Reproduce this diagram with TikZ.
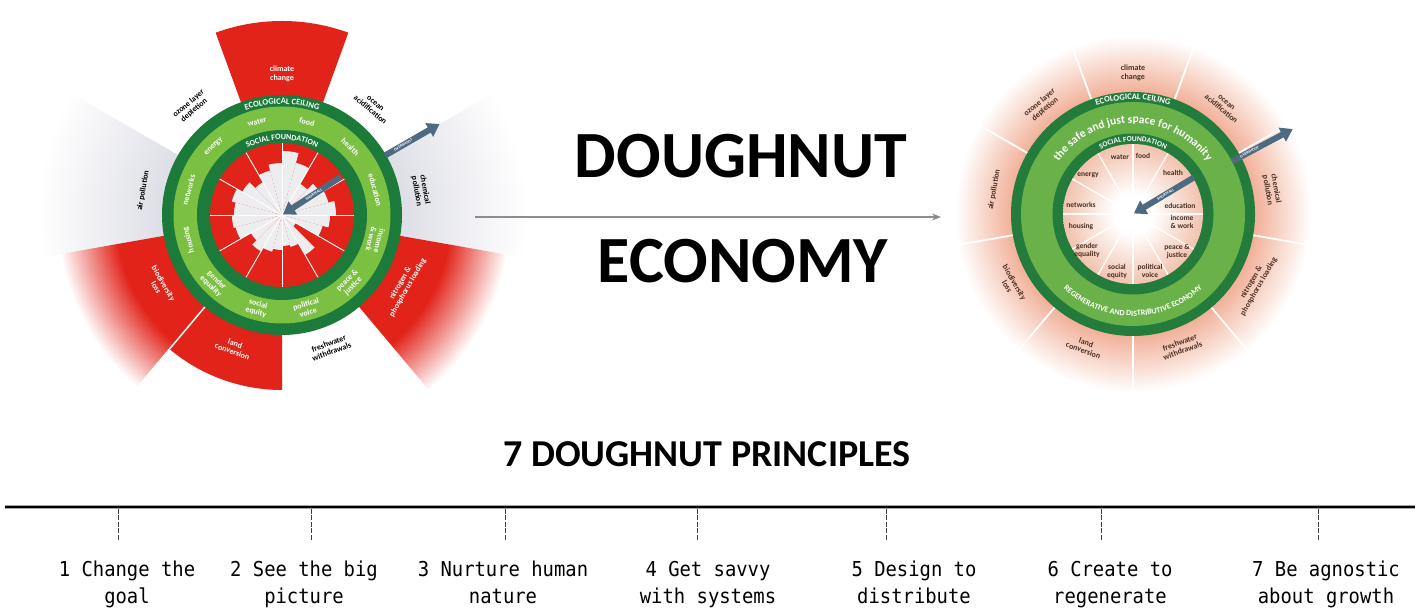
\documentclass[tikz,border=0pt]{standalone}
\usepackage{fontspec}
\setmainfont{Carlito}
\newfontfamily\monofont[FakeStretch=0.92]{DejaVu Sans Mono}
\usetikzlibrary{arrows.meta,decorations.text}

\definecolor{dnred}{HTML}{E2231A}
\definecolor{wedgegrey}{HTML}{DDDEE6}
\definecolor{innergrey}{HTML}{EDEDF0}
\definecolor{ldark}{HTML}{1C7A3A}
\definecolor{llight}{HTML}{7BC043}
\definecolor{rdark}{HTML}{237B3C}
\definecolor{rlight}{HTML}{6BB14A}
\definecolor{slate}{HTML}{4D6A80}
\definecolor{halopink}{HTML}{F1AF97}
\definecolor{corepink}{HTML}{F2C2AE}
\definecolor{labelbrown}{HTML}{4A3024}
\definecolor{arrowgrey}{HTML}{8C8C8C}

% radial fades (the inner 25bp maps onto the shaded circle's radius)
\pgfdeclareradialshading{greyfade}{\pgfpoint{0bp}{0bp}}{color(0bp)=(wedgegrey); color(12bp)=(wedgegrey); color(25bp)=(white); color(50bp)=(white)}
\pgfdeclareradialshading{redfade}{\pgfpoint{0bp}{0bp}}{color(0bp)=(dnred); color(18.5bp)=(dnred); color(25bp)=(white); color(50bp)=(white)}
\pgfdeclareradialshading{halo}{\pgfpoint{0bp}{0bp}}{color(0bp)=(halopink); color(17bp)=(halopink); color(25bp)=(white); color(50bp)=(white)}
\pgfdeclareradialshading{core}{\pgfpoint{0bp}{0bp}}{color(0bp)=(white); color(7bp)=(white); color(25bp)=(corepink); color(50bp)=(corepink)}

\tikzset{
  smalllabel/.style={font=\bfseries\fontsize{8}{8.5}\selectfont, align=center, inner sep=0pt},
  innerlabel/.style={font=\bfseries\fontsize{7.5}{8}\selectfont, align=center, inner sep=0pt, text=labelbrown},
  slatearrow/.style={draw=slate, line width=6pt, -{Triangle[length=12pt, width=15pt]}},
  arrowtag/.style={font=\bfseries\fontsize{4}{4}\selectfont, text=white, inner sep=0pt},
  principle/.style={font=\monofont\fontsize{20.5}{27}\selectfont, align=center, anchor=base, inner sep=0pt},
  tickline/.style={draw=black!75, line width=1pt, dash pattern=on 5pt off 1.5pt},
  bigtitle/.style={font=\bfseries\fontsize{66}{70}\selectfont, anchor=base, inner sep=0pt},
}

\begin{document}
\begin{tikzpicture}[x=1pt,y=1pt]
\useasboundingbox (0,0) rectangle (1420,612);
\fill[white] (0,0) rectangle (1420,612);
\clip (0,0) rectangle (1420,612);

%% ---------------- current economy: overshoot and shortfall ----------------
\begin{scope}[shift={(282,397)}]
  \coordinate (Lc) at (0,0);
  % boundaries close to their limit (grey fades)
  \foreach \a in {150,-10}{
    \begin{scope}
      \clip (0,0) -- (\a:330) arc[start angle=\a, end angle=\a+40, radius=330] -- cycle;
      \shade[shading=greyfade] (0,0) circle (245);
    \end{scope}
  }
  % transgressed boundaries
  \begin{scope}
    \clip (0,0) -- (-50:330) arc[start angle=-50, end angle=-10, radius=330] -- cycle;
    \shade[shading=redfade] (0,0) circle (228);
  \end{scope}
  \begin{scope}
    \clip (0,0) -- (190:330) arc[start angle=190, end angle=230, radius=330] -- cycle;
    \shade[shading=redfade] (0,0) circle (225);
  \end{scope}
  \fill[dnred] (0,0) -- (-130:175) arc[start angle=-130, end angle=-90, radius=175] -- cycle;
  \fill[dnred] (0,0) -- (70:194) arc[start angle=70, end angle=110, radius=194] -- cycle;
  \draw[white, line width=1.5pt] (-130:118) -- (-130:226);

  % rings
  \fill[ldark] (0,0) circle (120);
  \fill[llight] (0,0) circle (108.5);
  \fill[ldark] (0,0) circle (85);
  \fill[dnred] (0,0) circle (72);
  % social foundation reached in each half sector
  \foreach \r [count=\i from 0] in {64,54,36,44,48,54,48,42,16,46,33,31,35,38,42,36,48,50,48,52,46,38,46,52}{
    \pgfmathsetmacro\sa{90-15*\i}
    \pgfmathsetmacro\ea{75-15*\i}
    \fill[innergrey] (0,0) -- (\sa:\r) arc[start angle=\sa, end angle=\ea, radius=\r] -- cycle;
  }
  \foreach \a in {0,30,...,330}{
    \draw[white, line width=0.9pt] (0,0) -- (\a:72);
  }

  % band titles
  \path[decorate, decoration={text along path, text align=center,
    text={|\bfseries\fontsize{8.5}{8.5}\selectfont\color{white}|ECOLOGICAL CEILING}}]
    (140:111) arc[start angle=140, end angle=40, radius=111];
  \path[decorate, decoration={text along path, text align=center,
    text={|\bfseries\fontsize{8}{8}\selectfont\color{white}|SOCIAL FOUNDATION}}]
    (145:75.5) arc[start angle=145, end angle=35, radius=75.5];

  % social dimensions
  \foreach \a/\t [count=\i] in {105/water, 75/food, 45/health, 15/education,
      -15/{income\\\& work}, -45/{peace \&\\justice}, -75/{political\\voice},
      -105/{social\\equity}, -135/{gender\\equality}, -165/housing,
      165/networks, 135/energy}{
    \pgfmathsetmacro\rot{sin(\a)<-0.3 ? \a+90 : \a-90}
    \node[smalllabel, text=white, rotate=\rot] (lsoc\i) at (\a:96.5) {\t};
  }
  % planetary boundaries
  \foreach \a/\t/\c [count=\i] in {90/{climate\\change}/white, 50/{ocean\\acidification}/black,
      10/{chemical\\pollution}/black, -30/{nitrogen \&\\phosphorus loading}/white,
      -70/{freshwater\\withdrawals}/black, -110/{land\\conversion}/white,
      -150/{biodiversity\\loss}/white, 170/{air pollution}/black,
      130/{ozone layer\\depletion}/black}{
    \pgfmathsetmacro\rot{sin(\a)<-0.3 ? \a+90 : \a-90}
    \node[smalllabel, text=\c, rotate=\rot] (lbnd\i) at (\a:141) {\t};
  }

  % overshoot and shortfall
  \coordinate (lovA) at (30:119);
  \coordinate (lovB) at (30:182);
  \draw[slatearrow] (lovA) -- (lovB);
  \node[arrowtag, rotate=30] (lovtag) at (30:140) {OVERSHOOT};
  \coordinate (lsfA) at (33:70);
  \coordinate (lsfB) at (33:1);
  \draw[slatearrow] (lsfA) -- (lsfB);
  \node[arrowtag, rotate=33] (lsftag) at (33:38) {SHORTFALL};
\end{scope}

%% ---------------- the doughnut ----------------
\begin{scope}[shift={(1133,398)}]
  \coordinate (Rc) at (0,0);
  \shade[shading=halo] (0,0) circle (178);
  \foreach \a in {110,70,30,-10,-50,-90,-130,-170,150}{
    \draw[white, line width=1.8pt] (\a:121) -- (\a:178);
  }
  \fill[rdark] (0,0) circle (122);
  \fill[rlight] (0,0) circle (112);
  \fill[rdark] (0,0) circle (80.5);
  \shade[shading=core] (0,0) circle (70);
  \foreach \a in {0,30,...,330}{
    \draw[white, line width=1.3pt] (\a:9) -- (\a:70);
  }

  \path[decorate, decoration={text along path, text align=center,
    text={|\bfseries\fontsize{8.5}{8.5}\selectfont\color{white}|ECOLOGICAL CEILING}}]
    (140:114.5) arc[start angle=140, end angle=40, radius=114.5];
  \path[decorate, decoration={text along path, text align=center,
    text={|\bfseries\fontsize{11.5}{11.5}\selectfont\color{white}|the safe and just space for humanity}}]
    (170:91) arc[start angle=170, end angle=10, radius=91];
  \path[decorate, decoration={text along path, text align=center,
    text={|\bfseries\fontsize{7.5}{7.5}\selectfont\color{white}|SOCIAL FOUNDATION}}]
    (145:72.5) arc[start angle=145, end angle=35, radius=72.5];
  \path[decorate, decoration={text along path, text align=center,
    text={|\bfseries\fontsize{8}{8}\selectfont\color{white}|REGENERATIVE AND DISTRIBUTIVE ECONOMY}}]
    (190:102) arc[start angle=190, end angle=350, radius=102];

  % social dimensions
  \foreach \p/\t [count=\i] in {{(-13,57)}/water, {(10,58)}/food, {(40,41)}/health,
      {(47,8)}/education, {(49,-8)}/{income\\\& work}, {(44,-38)}/{peace \&\\justice},
      {(17,-57)}/{political\\voice}, {(-16,-57)}/{social\\equity},
      {(-46,-36)}/{gender\\equality}, {(-52,-13)}/housing, {(-52,9)}/networks,
      {(-45,39)}/energy}{
    \node[innerlabel] (rsoc\i) at \p {\t};
  }
  % planetary boundaries
  \foreach \a/\t [count=\i] in {90/{climate\\change}, 50/{ocean\\acidification},
      10/{chemical\\pollution}, -30/{nitrogen \&\\phosphorus loading},
      -70/{freshwater\\withdrawals}, -110/{land\\conversion},
      -150/{biodiversity\\loss}, 170/{air pollution},
      130/{ozone layer\\depletion}}{
    \pgfmathsetmacro\rot{sin(\a)<-0.3 ? \a+90 : \a-90}
    \node[smalllabel, text=labelbrown, rotate=\rot] (rbnd\i) at (\a:141) {\t};
  }

  \coordinate (rovA) at (28:112);
  \coordinate (rovB) at (28:181);
  \draw[slatearrow] (rovA) -- (rovB);
  \node[arrowtag, rotate=28] (rovtag) at (28:132) {OVERSHOOT};
  \coordinate (rsfA) at (31:71);
  \coordinate (rsfB) at (31:1);
  \draw[slatearrow] (rsfA) -- (rsfB);
  \node[arrowtag, rotate=31] (rsftag) at (31:38) {SHORTFALL};
\end{scope}

%% ---------------- title and transition arrow ----------------
\node[bigtitle] (tdough) at (741,434) {DOUGHNUT};
\node[bigtitle] (tecon) at (743,329) {ECONOMY};
\coordinate (trA) at (475,395);
\coordinate (trB) at (941,395);
\draw[arrowgrey, line width=1.2pt, -{Stealth[length=9pt, width=7pt]}] (trA) -- (trB);

%% ---------------- seven principles ----------------
\node[font=\bfseries\fontsize{38}{40}\selectfont, anchor=base, inner sep=0pt] (ptitle) at (707,145) {7 DOUGHNUT PRINCIPLES};
\coordinate (tlA) at (5,105);
\coordinate (tlB) at (1415,105);
\draw[black!35, line width=4pt] (tlA) -- (tlB);
\draw[black, line width=2.4pt] (tlA) -- (tlB);
% the base anchor of a two-line node sits on its last line
\foreach \tx/\lx/\t [count=\i] in {118/127/{1 Change the\\goal}, 311/304/{2 See the big\\picture},
    505/503/{3 Nurture human\\nature}, 697/708/{4 Get savvy\\with systems},
    886/914/{5 Design to\\distribute}, 1101/1110/{6 Create to\\regenerate},
    1318/1326/{7 Be agnostic\\about growth}}{
  \coordinate (tkA\i) at (\tx,103);
  \coordinate (tkB\i) at (\tx,71);
  \draw[tickline] (tkA\i) -- (tkB\i);
  \node[principle] (prin\i) at (\lx,8) {\t};
}
\end{tikzpicture}
\end{document}
